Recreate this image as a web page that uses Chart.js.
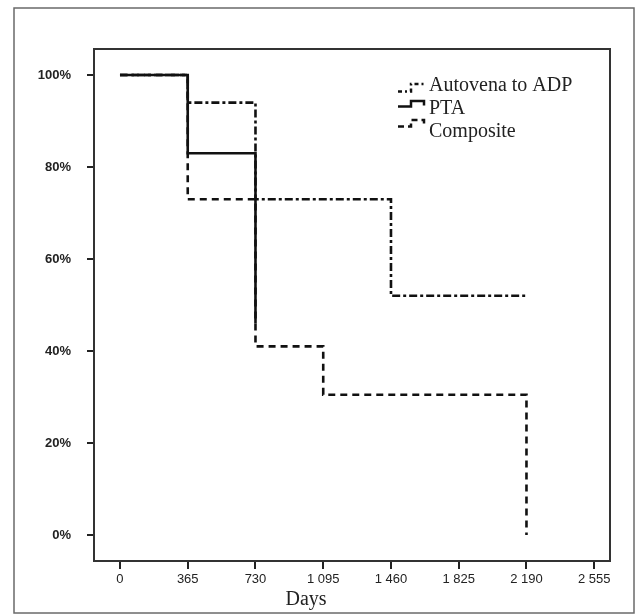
<!DOCTYPE html>
<html>
<head>
<meta charset="utf-8">
<script src="https://cdn.jsdelivr.net/npm/chart.js"></script>
<title>Survival by treatment</title>
<style>
  html, body { margin: 0; padding: 0; background: #fff; }
  #wrap { width: 637px; height: 615px; }
</style>
</head>
<body>
<div id="wrap"><canvas id="survChart" width="637" height="615"></canvas></div>
<script>
// series: event days and survival (%) after each event
const seriesNames = ['Autovena to ADP', 'PTA', 'Composite'];
const autovenaDays = [0, 365, 730, 1460, 2190];
const autovenaVals = [100, 94, 73, 52, 52];
const ptaDays = [0, 365, 730];
const ptaVals = [100, 83, 46];
const compositeDays = [0, 365, 730, 1095, 2190];
const compositeVals = [100, 73, 41, 30.5, 0];

const xTicks = [0, 365, 730, 1095, 1460, 1825, 2190, 2555];
const yTicks = [0, 20, 40, 60, 80, 100];

function toPoints(days, vals) {
    return days.map((d, i) => ({ x: d, y: vals[i] }));
}

function fmtDays(v) {
    return String(v).replace(/\B(?=(\d{3})+(?!\d))/g, ' ');
}

const serif = '"Liberation Serif", "DejaVu Serif", serif';

// frame, plot box, legend and x title
const decor = {
    id: 'decor',
    beforeDraw(chart) {
        const c = chart.ctx;
        c.save();
        c.strokeStyle = '#6a6a6a';
        c.lineWidth = 1.5;
        c.strokeRect(14, 8, 620, 605);
        c.restore();
    },
    afterDraw(chart) {
        const c = chart.ctx;
        const a = chart.chartArea;
        c.save();
        c.strokeStyle = '#333';
        c.lineWidth = 2;
        c.strokeRect(a.left, a.top, a.right - a.left, a.bottom - a.top);

        // legend
        const rows = [
            { dash: [4, 3, 2, 3], low: 91.5, high: 84, end: 84, base: 91 },
            { dash: [], low: 106.5, high: 101, end: 105.5, base: 114 },
            { dash: [6, 4], low: 126.5, high: 120, end: 126, base: 137 }
        ];
        c.strokeStyle = '#111';
        c.lineWidth = 2.5;
        rows.forEach((r, i) => {
            c.setLineDash(r.dash);
            c.beginPath();
            c.moveTo(398, r.low);
            c.lineTo(411, r.low);
            c.lineTo(411, r.high);
            c.lineTo(424, r.high);
            c.lineTo(424, r.end);
            c.stroke();
            c.setLineDash([]);
            c.fillStyle = '#222';
            c.font = '20px ' + serif;
            c.textBaseline = 'alphabetic';
            c.fillText(seriesNames[i], 429, r.base);
        });

        c.font = '20px ' + serif;
        c.textAlign = 'center';
        c.fillText('Days', 306, 605);
        c.restore();
    }
};

new Chart(document.getElementById('survChart'), {
    type: 'line',
    data: {
        datasets: [
            {
                label: seriesNames[0],
                data: toPoints(autovenaDays, autovenaVals),
                stepped: 'before',
                borderColor: '#111',
                borderWidth: 2.6,
                borderDash: [8, 3, 3, 3],
                pointRadius: 0
            },
            {
                label: seriesNames[1],
                data: toPoints(ptaDays, ptaVals),
                stepped: 'before',
                borderColor: '#111',
                borderWidth: 2.6,
                pointRadius: 0
            },
            {
                label: seriesNames[2],
                data: toPoints(compositeDays, compositeVals),
                stepped: 'before',
                borderColor: '#111',
                borderWidth: 2.6,
                borderDash: [7, 5],
                pointRadius: 0
            }
        ]
    },
    options: {
        responsive: false,
        animation: false,
        layout: { padding: { left: 0, top: 49, right: 27, bottom: 0 } },
        plugins: { legend: { display: false }, tooltip: { enabled: false } },
        scales: {
            x: {
                type: 'linear',
                min: -140,
                max: 2640,
                afterFit(scale) { scale.height = 54; },
                afterBuildTicks(scale) { scale.ticks = xTicks.map(v => ({ value: v })); },
                border: { display: false },
                grid: { drawOnChartArea: false, drawTicks: true, tickLength: 8, color: '#222', lineWidth: 2 },
                ticks: {
                    padding: 3,
                    color: '#222',
                    font: { family: '"Liberation Sans", Arial, sans-serif', size: 13 },
                    maxRotation: 0,
                    callback: v => fmtDays(v)
                }
            },
            y: {
                min: -5.65,
                max: 105.65,
                afterFit(scale) { scale.width = 94; },
                afterBuildTicks(scale) { scale.ticks = yTicks.map(v => ({ value: v })); },
                border: { display: false },
                grid: { drawOnChartArea: false, drawTicks: true, tickLength: 7, color: '#222', lineWidth: 2 },
                ticks: {
                    padding: 16,
                    color: '#222',
                    font: { family: '"Liberation Sans", Arial, sans-serif', size: 13, weight: 'bold' },
                    callback: v => v + '%'
                }
            }
        }
    },
    plugins: [decor]
});
</script>
</body>
</html>
